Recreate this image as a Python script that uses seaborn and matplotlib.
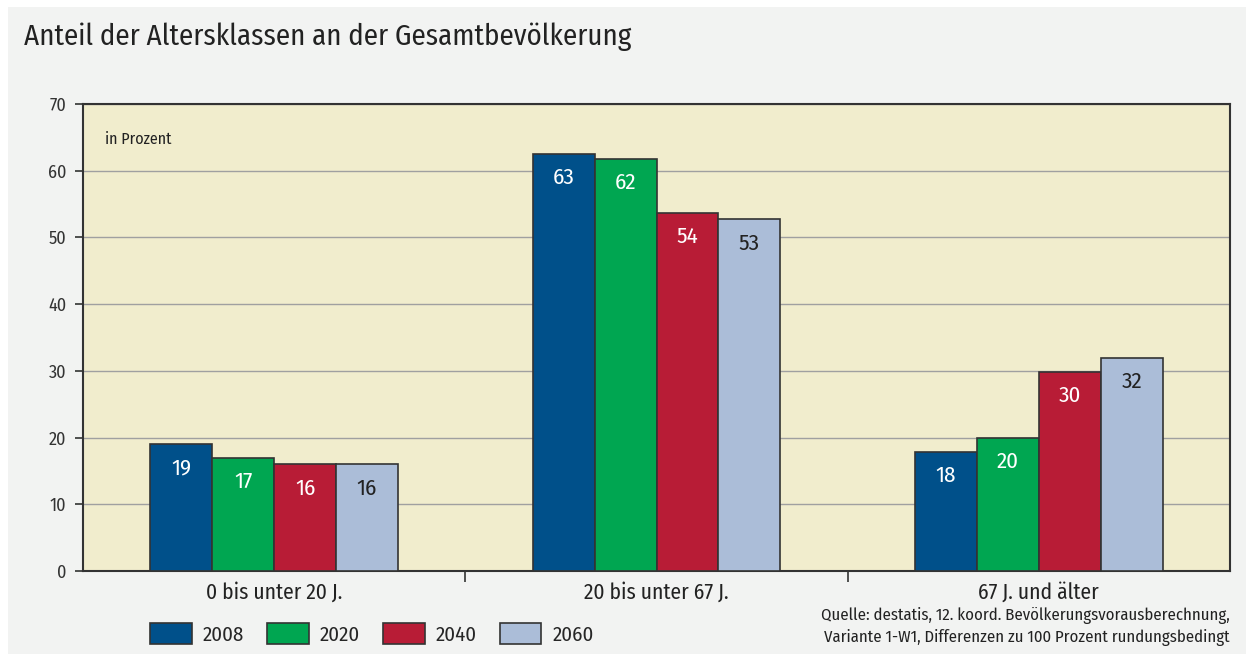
import matplotlib.pyplot as plt
import matplotlib.patches as mpatches
import pandas as pd
import seaborn as sns

# Data
groups = ["0 bis unter 20 J.", "20 bis unter 67 J.", "67 J. und älter"]
years = ["2008", "2020", "2040", "2060"]
values_2008 = [19.0, 62.5, 17.9]
values_2020 = [17.0, 61.8, 20.0]
values_2040 = [16.0, 53.7, 29.9]
values_2060 = [16.0, 52.7, 31.9]
labels_2008 = ["19", "63", "18"]
labels_2020 = ["17", "62", "20"]
labels_2040 = ["16", "54", "30"]
labels_2060 = ["16", "53", "32"]
colors = ["#00508a", "#00a651", "#b81c36", "#abbdd8"]
label_colors = ["white", "white", "white", "#222222"]

rows = []
for yr, vals in zip(years, [values_2008, values_2020, values_2040, values_2060]):
    for g, v in zip(groups, vals):
        rows.append({"group": g, "year": yr, "value": v})
df = pd.DataFrame(rows)

sns.set_style("white")
plt.rcParams["font.family"] = ["Fira Sans Condensed", "DejaVu Sans"]

fig = plt.figure(figsize=(12.46, 6.54), dpi=100)
fig.patch.set_facecolor("white")
fig.patches.append(mpatches.Rectangle((8 / 1246, 0), 1 - 8 / 1246, 1 - 7 / 654,
                                      transform=fig.transFigure, facecolor="#f2f3f2",
                                      edgecolor="none", zorder=-10))

ax = fig.add_axes([83 / 1246, 1 - 571 / 654, (1230 - 83) / 1246, (571 - 104) / 654])
ax.set_facecolor("#f1edcd")

sns.barplot(data=df, x="group", y="value", hue="year", palette=colors, saturation=1,
            width=0.647, edgecolor="#333333", linewidth=1.2, ax=ax, zorder=3)

all_labels = [labels_2008, labels_2020, labels_2040, labels_2060]
for cont, labs, lc in zip(ax.containers, all_labels, label_colors):
    ax.bar_label(cont, labels=labs, padding=-25, color=lc, fontsize=16.5, zorder=4)

ax.set_ylim(0, 70)
ax.set_xlim(-0.5, 2.5)
ax.set_yticks(range(0, 71, 10))
ax.yaxis.grid(True, color="#a0a0a0", linewidth=1, zorder=0)
ax.set_axisbelow(True)
ax.tick_params(axis="y", left=True, length=6, width=1.2, color="#333333",
               labelsize=13, labelcolor="#333333", pad=6)
ax.set_xticks(range(3))
ax.set_xticklabels(groups, fontsize=15.5, color="#222222")
ax.tick_params(axis="x", length=0, pad=8)
ax.set_xticks([0.5, 1.5], minor=True)
ax.tick_params(axis="x", which="minor", bottom=True, length=8, width=1.2, color="#333333")
for s in ax.spines.values():
    s.set_color("#333333")
    s.set_linewidth(1.5)
ax.set_xlabel("")
ax.set_ylabel("")

ax.text(22 / 1147, 1 - 35 / 467, "in Prozent", transform=ax.transAxes,
        fontsize=11.5, color="#222222", va="center")

handles, _ = ax.get_legend_handles_labels()
ax.legend(handles, years, loc="center left", bbox_to_anchor=(150 / 1246, 1 - 634 / 654),
          bbox_transform=fig.transFigure, ncol=4, frameon=False, fontsize=15,
          handlelength=2.0, handleheight=1.2, columnspacing=1.1, handletextpad=0.53,
          borderaxespad=0, borderpad=0)

fig.text(24 / 1246, 1 - 37 / 654, "Anteil der Altersklassen an der Gesamtbevölkerung",
         fontsize=20.8, color="#222222", va="center")
fig.text(1230 / 1246, 1 - 616 / 654, "Quelle: destatis, 12. koord. Bevölkerungsvorausberechnung,",
         fontsize=12, color="#222222", ha="right", va="center")
fig.text(1230 / 1246, 1 - 637 / 654, "Variante 1-W1, Differenzen zu 100 Prozent rundungsbedingt",
         fontsize=12, color="#222222", ha="right", va="center")

fig.savefig("out.png", dpi=100)
